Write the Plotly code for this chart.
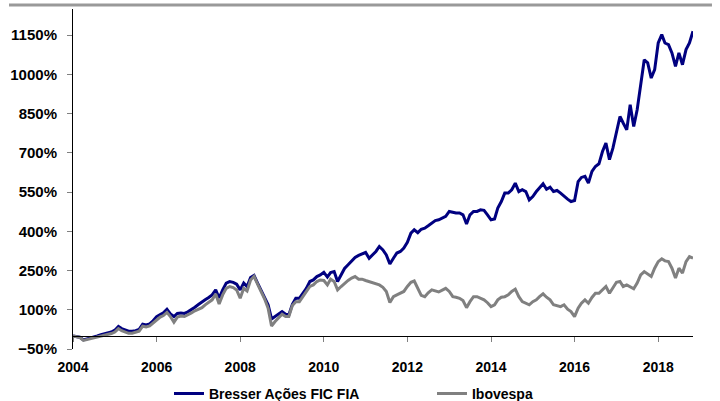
import pandas as pd
import plotly.graph_objects as go

dates = pd.date_range("2004-01-01", periods=179, freq="MS")

bresser = [0, -2, -5, -15, -12, -8, -4, 0, 5, 8, 12, 15,
           22, 36, 28, 22, 18, 18, 20, 25, 45, 42, 46, 58,
           74, 82, 88, 102, 84, 74, 86, 88, 86, 92, 100, 110,
           120, 128, 138, 147, 157, 176, 145, 176, 202, 208, 205, 198,
           176, 202, 189, 223, 231, 202, 176, 147, 119, 65, 74, 83,
           93, 83, 80, 121, 144, 144, 163, 182, 208, 214, 227, 233,
           243, 225, 242, 246, 208, 233, 258, 272, 288, 300, 308, 314,
           319, 297, 310, 323, 342, 329, 310, 275, 297, 317, 323, 336,
           358, 393, 406, 395, 408, 412, 421, 431, 441, 444, 450, 457,
           476, 472, 470, 470, 463, 428, 463, 476, 476, 482, 480, 463,
           444, 447, 489, 514, 546, 546, 559, 584, 552, 559, 552, 520,
           533, 552, 565, 582, 561, 569, 552, 556, 546, 533, 523, 514,
           518, 590, 606, 610, 584, 629, 648, 658, 705, 737, 674, 718,
           776, 839, 814, 788, 884, 801, 865, 954, 1056, 1044, 986, 1018,
           1120, 1152, 1120, 1114, 1082, 1031, 1082, 1037, 1095, 1120, 1165]

ibovespa = [0, -2, -6, -17, -14, -10, -7, -3, 1, 4, 7, 9,
            15, 28, 20, 14, 10, 10, 13, 18, 37, 34, 38, 49,
            64, 72, 78, 90, 74, 52, 72, 76, 74, 80, 88, 96,
            103, 108, 119, 127, 138, 160, 122, 157, 182, 189, 185, 176,
            144, 182, 172, 214, 228, 198, 170, 142, 106, 38, 55, 68,
            83, 74, 74, 116, 131, 131, 150, 167, 189, 195, 208, 214,
            212, 195, 217, 208, 176, 189, 202, 212, 221, 227, 217, 217,
            212, 208, 202, 199, 195, 186, 170, 128, 150, 157, 163, 170,
            189, 205, 210, 185, 155, 150, 165, 176, 172, 168, 175, 182,
            170, 150, 148, 144, 135, 108, 131, 150, 150, 144, 138, 127,
            112, 119, 138, 148, 150, 157, 170, 179, 150, 131, 125, 119,
            131, 138, 150, 161, 148, 138, 119, 115, 112, 119, 102, 93,
            74, 106, 125, 138, 125, 147, 163, 163, 176, 189, 163, 182,
            205, 208, 189, 195, 189, 180, 202, 233, 246, 236, 227, 259,
            284, 295, 287, 284, 259, 221, 259, 240, 284, 303, 297]

names = ["Bresser Ações FIC FIA", "Ibovespa"]
colors = ["#000080", "#808080"]
year_ticks = ["2004", "2006", "2008", "2010", "2012", "2014", "2016", "2018"]

FONT = "Liberation Sans, Arial, sans-serif"

fig = go.Figure()
fig.add_trace(go.Scatter(x=dates, y=bresser, mode="lines", name=names[0],
                         line=dict(color=colors[0], width=3), xaxis="x", yaxis="y"))
fig.add_trace(go.Scatter(x=dates, y=ibovespa, mode="lines", name=names[1],
                         line=dict(color=colors[1], width=3), xaxis="x2", yaxis="y"))

tickvals = [f"{y}-01-01" for y in year_ticks]
xrange_ = [dates[0], dates[-1]]

fig.update_layout(
    width=720, height=401,
    margin=dict(l=73, r=27, t=9, b=52, autoexpand=False),
    paper_bgcolor="white", plot_bgcolor="white",
    showlegend=True,
    legend=dict(orientation="h", x=0.579, xanchor="center", y=-0.132, yanchor="middle",
                font=dict(family=FONT, size=14, color="black", weight="bold"),
                entrywidth=218, itemwidth=30, tracegroupgap=0),
    xaxis=dict(range=xrange_, tickvals=tickvals, ticktext=year_ticks,
               showline=False, showgrid=False, zeroline=False, ticks="",
               ticklabelstandoff=8,
               tickfont=dict(family=FONT, size=14, color="black", weight="bold")),
    xaxis2=dict(overlaying="x", anchor="free", position=50 / 1300,
                side="bottom", range=xrange_, tickvals=tickvals,
                showticklabels=False, showline=True, linecolor="black", linewidth=1,
                ticks="outside", ticklen=5, tickcolor="#808080", tickwidth=1,
                showgrid=False, zeroline=False),
    yaxis=dict(range=[-50, 1250], tick0=-50, dtick=150, ticksuffix="%",
               showline=True, linecolor="black", linewidth=1,
               ticks="outside", ticklen=5, tickcolor="#808080",
               showgrid=False, zeroline=False,
               ticklabelstandoff=7,
               tickfont=dict(family=FONT, size=15, color="black", weight="bold")),
    shapes=[dict(type="line", xref="paper", yref="paper",
                 x0=-0.1032, x1=1.0306, y0=1.0118, y1=1.0118,
                 line=dict(color="#999999", width=3))],
)

fig.write_html("out.html", config={"displayModeBar": False},
               post_script="document.body.style.margin='0px';document.body.style.overflow='hidden';")
